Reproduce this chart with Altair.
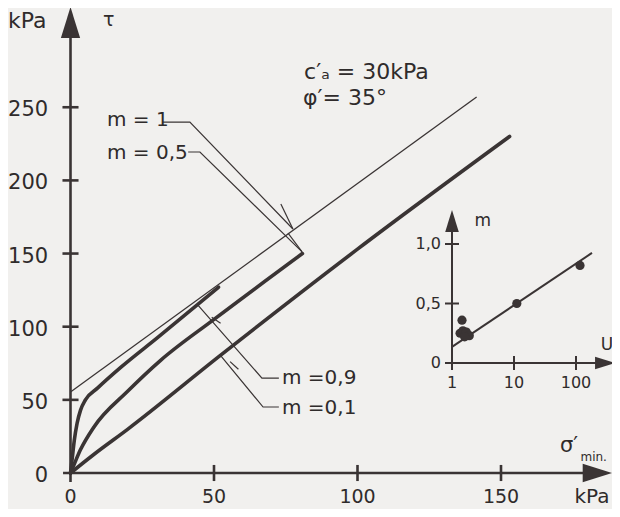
import altair as alt
import pandas as pd

# ---------------- values ----------------
# main diagram: shear stress tau (kPa) against normal stress (kPa)
m1_sigma = [0, 141.5]
m1_tau = [55.4, 257]
m09_sigma = [0, 0.6, 1.3, 2.3, 3.5, 5.2, 9.4, 17.4, 30, 51.6]
m09_tau = [0, 10, 22, 34, 43, 50, 58, 72, 92, 127]
m05_sigma = [0, 1.5, 3.5, 8, 20, 31.4, 50, 80.8]
m05_tau = [0, 7, 16, 31, 56, 77, 105, 150]
m01_sigma = [0, 8, 20, 52, 100, 153]
m01_tau = [0, 12.5, 30, 80, 153, 230]

main_x_ticks = [0, 50, 100, 150]
main_x_labels = ["0", "50", "100", "150"]
main_y_ticks = [0, 50, 100, 150, 200, 250]
main_y_labels = ["0", "50", "100", "150", "200", "250"]

# inset: m against U (log axis)
inset_u_pts = [1.45, 1.35, 1.5, 1.7, 1.9, 1.6, 11.1, 116]
inset_m_pts = [0.36, 0.25, 0.27, 0.26, 0.23, 0.22, 0.5, 0.82]
inset_fit_u = [1, 181]
inset_fit_m = [0.135, 0.925]
inset_u_ticks = [1, 10, 100]
inset_u_labels = ["1", "10", "100"]
inset_m_ticks = [0, 0.5, 1.0]
inset_m_labels = ["0", "0,5", "1,0"]

# ---------------- layout / style ----------------
W, H = 604, 501
INK = "#3a3434"
TXT = "#2f2b2b"
BG = "#f1f0ee"
FONT = "DejaVu Sans"

# main scale: sigma=0 at page x 70.5 (2.87 px/kPa), tau=0 at page y 473 (1.463 px/kPa)
X0, KX, Y0, KY = 70.5, 2.87, 473.0, 1.463
xs = alt.Scale(domain=[(8 - X0) / KX, (8 + W - X0) / KX], nice=False, zero=False)
ys = alt.Scale(domain=[(Y0 - 8 - H) / KY, (Y0 - 8) / KY], nice=False, zero=False)
# inset scale: U=1 at page x 452 (62 px per decade), m=0 at page y 363 (119 px per unit)
U0, KU, M0, KM = 452.0, 62.0, 363.0, 119.0
us = alt.Scale(type="log", domain=[10 ** ((8 - U0) / KU), 10 ** ((8 + W - U0) / KU)], nice=False)
ms = alt.Scale(domain=[(M0 - 8 - H) / KM, (M0 - 8) / KM], nice=False, zero=False)

TX = 2.8   # half tick length in kPa (x direction)
TY = 5.5   # half tick length in kPa (y direction)


def X(f="x"):
    return alt.X(f"{f}:Q", scale=xs, axis=None)


def Y(f="y"):
    return alt.Y(f"{f}:Q", scale=ys, axis=None)


def U(f="u"):
    return alt.X(f"{f}:Q", scale=us, axis=None)


def M(f="m"):
    return alt.Y(f"{f}:Q", scale=ms, axis=None)


def series_df(named):
    rows = []
    for sid, (xv, yv) in named.items():
        for i, (a, b) in enumerate(zip(xv, yv)):
            rows.append({"sid": sid, "i": i, "x": a, "y": b})
    return pd.DataFrame(rows)


# ---------- main curves ----------
thick = series_df({"m09": (m09_sigma, m09_tau), "m05": (m05_sigma, m05_tau),
                   "m01": (m01_sigma, m01_tau)})
thin = series_df({"m1": (m1_sigma, m1_tau)})

thick_layer = alt.Chart(thick).mark_line(color=INK, strokeWidth=3.6, interpolate="monotone",
                                         strokeCap="round", strokeJoin="round").encode(
    x=X(), y=Y(), detail="sid:N", order="i:Q")
thin_layer = alt.Chart(thin).mark_line(color=INK, strokeWidth=1.3).encode(
    x=X(), y=Y(), detail="sid:N", order="i:Q")

# ---------- pointer lines (data units) ----------
pointers = series_df({
    "p1": ([32.2, 41.6, 77.5], [239.9, 239.9, 166.8]),
    "p05": ([41.0, 45.1, 80.7], [219.4, 219.4, 151.1]),
    "p09": ([72.6, 66.7, 44.4], [64.9, 64.9, 114.8]),
    "p01": ([72.6, 67.1, 52.1], [45.1, 45.1, 80.7]),
    "b1": ([73.3, 77.5], [183.9, 166.8]),
    "b05": ([75.8, 80.7], [164.0, 151.1]),
    "b09": ([49.2, 52.3], [106.4, 102.3]),
    "b01": ([55.6, 58.5], [76.1, 70.9]),
})
pointer_layer = alt.Chart(pointers).mark_line(color=INK, strokeWidth=1.2).encode(
    x=X(), y=Y(), detail="sid:N", order="i:Q")

# ---------- main axes ----------
ax_rows = [
    {"x": 0, "x2": 0, "y": -6.2, "y2": 298.0},
    {"x": -2.6, "x2": 179.3, "y": 0, "y2": 0},
]
for t in main_y_ticks[1:]:
    ax_rows.append({"x": -TX, "x2": TX, "y": t, "y2": t})
for t in main_x_ticks[1:]:
    ax_rows.append({"x": t, "x2": t, "y": -TY, "y2": TY})
axes_layer = alt.Chart(pd.DataFrame(ax_rows)).mark_rule(color=INK, strokeWidth=2.6).encode(
    x=X(), x2="x2:Q", y=Y(), y2="y2:Q")

ARROW = "M0,-1L0.62,1L-0.62,1Z"
arrows_main = pd.DataFrame([{"x": 0, "y": 307.9}, {"x": 183.6, "y": 0}])
arr_y = alt.Chart(arrows_main.iloc[[0]]).mark_point(shape=ARROW, filled=True, size=961,
                                                  color=INK, opacity=1, strokeWidth=0).encode(x=X(), y=Y())
arr_x = alt.Chart(arrows_main.iloc[[1]]).mark_point(shape=ARROW, filled=True, size=870, angle=90,
                                                  color=INK, opacity=1, strokeWidth=0).encode(x=X(), y=Y())

ylab = pd.DataFrame({"x": [-7.8] * len(main_y_ticks), "y": main_y_ticks, "t": main_y_labels})
xlab = pd.DataFrame({"x": main_x_ticks, "y": [-16.4] * len(main_x_ticks), "t": main_x_labels})
ylab_layer = alt.Chart(ylab).mark_text(align="right", baseline="middle", dy=3, font=FONT,
                                       fontSize=21, color=TXT).encode(x=X(), y=Y(), text="t:N")
xlab_layer = alt.Chart(xlab).mark_text(align="center", baseline="middle", font=FONT,
                                       fontSize=19, color=TXT).encode(x=X(), y=Y(), text="t:N")


def texts(rows, size, align="left"):
    return alt.Chart(pd.DataFrame(rows)).mark_text(align=align, baseline="middle", font=FONT,
                                                   fontSize=size, color=TXT).encode(
        x=X(), y=Y(), text="t:N")


ann_big = texts([
    {"x": -21.8, "y": 309.0, "t": "kPa"},
    {"x": 81.4, "y": 274.1, "t": "c′ₐ = 30kPa"},
    {"x": 81.0, "y": 256.3, "t": "φ′= 35°"},
], 22)
ann_kpa_x = texts([{"x": 187.8, "y": -16.4, "t": "kPa"}], 20, align="right")
ann_tau = texts([{"x": 11.3, "y": 309.4, "t": "τ"}], 19)
ann_m = texts([
    {"x": 12.7, "y": 241.3, "t": "m = 1"},
    {"x": 12.7, "y": 218.7, "t": "m = 0,5"},
    {"x": 73.7, "y": 64.9, "t": "m =0,9"},
    {"x": 73.7, "y": 44.4, "t": "m =0,1"},
], 20)

main = alt.layer(thin_layer, thick_layer, pointer_layer, axes_layer, arr_y, arr_x,
                 ylab_layer, xlab_layer, ann_big, ann_kpa_x, ann_tau, ann_m)

# ---------- inset ----------
fit = pd.DataFrame({"u": inset_fit_u, "m": inset_fit_m})
pts = pd.DataFrame({"u": inset_u_pts, "m": inset_m_pts})
fit_layer = alt.Chart(fit).mark_line(color=INK, strokeWidth=2.0).encode(x=U(), y=M())
pts_layer = alt.Chart(pts).mark_circle(color=INK, size=85, opacity=1).encode(x=U(), y=M())

in_rows = [
    {"u": 1, "u2": 1, "m": -0.059, "m2": 1.109},
    {"u": 0.771, "u2": 210.0, "m": 0, "m2": 0},
]
for t in inset_m_ticks:
    in_rows.append({"u": 0.771, "u2": 1.297, "m": t, "m2": t})
for t in inset_u_ticks[1:]:
    in_rows.append({"u": t, "u2": t, "m": -0.059, "m2": 0.059})
in_axes = alt.Chart(pd.DataFrame(in_rows)).mark_rule(color=INK, strokeWidth=2.0).encode(
    x=U(), x2="u2:Q", y=M(), y2="m2:Q")
in_arr_y = alt.Chart(pd.DataFrame({"u": [1], "m": [1.193]})).mark_point(
    shape=ARROW, filled=True, size=484, color=INK, opacity=1, strokeWidth=0).encode(x=U(), y=M())
in_arr_x = alt.Chart(pd.DataFrame({"u": [294.6], "m": [0]})).mark_point(
    shape=ARROW, filled=True, size=400, angle=90, color=INK, opacity=1, strokeWidth=0).encode(x=U(), y=M())

in_ylab = alt.Chart(pd.DataFrame({"u": [0.665] * 3, "m": inset_m_ticks, "t": inset_m_labels})).mark_text(
    align="right", baseline="middle", font=FONT, fontSize=16, color=TXT).encode(x=U(), y=M(), text="t:N")
in_xlab = alt.Chart(pd.DataFrame({"u": inset_u_ticks, "m": [-0.168] * 3, "t": inset_u_labels})).mark_text(
    align="center", baseline="middle", font=FONT, fontSize=16, color=TXT).encode(x=U(), y=M(), text="t:N")


def in_texts(rows, size):
    return alt.Chart(pd.DataFrame(rows)).mark_text(align="left", baseline="middle", font=FONT,
                                                   fontSize=size, color=TXT).encode(
        x=U(), y=M(), text="t:N")


in_ann = in_texts([{"u": 2.3, "m": 1.19, "t": "m"}, {"u": 250.0, "m": 0.15, "t": "U"}], 17)
in_sig = in_texts([{"u": 55.0, "m": -0.70, "t": "σ′"}], 21)
in_min = in_texts([{"u": 118.0, "m": -0.79, "t": "min."}], 12)

inset = alt.layer(fit_layer, pts_layer, in_axes, in_arr_y, in_arr_x, in_ylab, in_xlab,
                  in_ann, in_sig, in_min)

chart = alt.layer(main, inset).resolve_scale(x="independent", y="independent").properties(
    width=W, height=H, padding=0, autosize=alt.AutoSizeParams(type="none"), background=BG
).configure_view(stroke=None)

chart.save("out.html", embed_options={"renderer": "svg", "actions": False})
